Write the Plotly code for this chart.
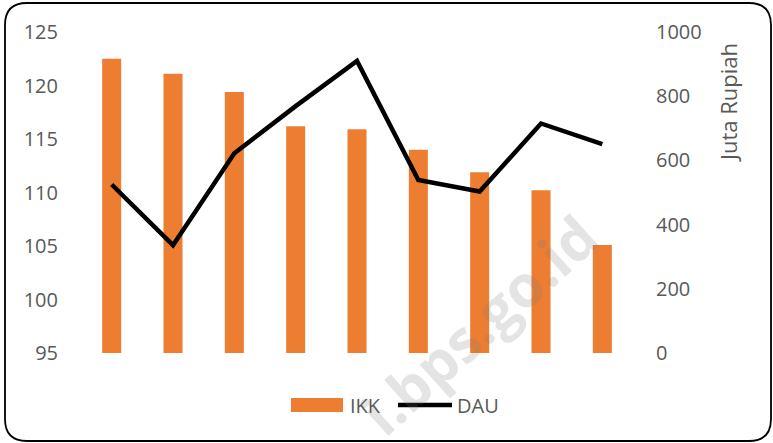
import plotly.graph_objects as go

categories = ["A", "B", "C", "D", "E", "F", "G", "H", "I"]
ikk_values = [122.5, 121.1, 119.4, 116.2, 115.9, 114.0, 111.9, 110.2, 105.1]
dau_values = [525, 336, 622, 769, 910, 539, 503, 715, 651]
left_ticks = [95, 100, 105, 110, 115, 120, 125]
right_ticks = [0, 200, 400, 600, 800, 1000]

W, H = 773, 443
ML, MR, MT, MB = 81, 140, 32, 90
PW, PH = W - ML - MR, H - MT - MB

def px(x):
    return (x - ML) / PW

def py(y):
    return (H - MB - y) / PH

ORANGE = "#ED7D31"
GRAY = "#595959"
FONT = "Open Sans"

fig = go.Figure()
fig.add_trace(go.Bar(x=categories, y=ikk_values, name="IKK", marker=dict(color=ORANGE, line=dict(width=0)),
                     yaxis="y"))
fig.add_trace(go.Scatter(x=categories, y=dau_values, name="DAU", mode="lines",
                         line=dict(color="black", width=4.5), yaxis="y2"))

shapes = []
# rounded border
x0, y0, x1, y1, r = 5, 3, 771, 441, 22
path = (f"M {px(x0+r)},{py(y0)} L {px(x1-r)},{py(y0)} Q {px(x1)},{py(y0)} {px(x1)},{py(y0+r)} "
        f"L {px(x1)},{py(y1-r)} Q {px(x1)},{py(y1)} {px(x1-r)},{py(y1)} "
        f"L {px(x0+r)},{py(y1)} Q {px(x0)},{py(y1)} {px(x0)},{py(y1-r)} "
        f"L {px(x0)},{py(y0+r)} Q {px(x0)},{py(y0)} {px(x0+r)},{py(y0)} Z")
shapes.append(dict(type="path", xref="paper", yref="paper", path=path,
                   line=dict(color="black", width=1.8), layer="above"))
# custom legend
shapes.append(dict(type="rect", xref="paper", yref="paper", x0=px(291), x1=px(343), y0=py(412), y1=py(398),
                   fillcolor=ORANGE, line=dict(width=0)))
shapes.append(dict(type="line", xref="paper", yref="paper", x0=px(398), x1=px(452), y0=py(405), y1=py(405),
                   line=dict(color="black", width=4.5)))

annotations = [
    dict(text="IKK", xref="paper", yref="paper", x=px(348), y=py(405), xanchor="left", yanchor="middle",
         showarrow=False, font=dict(family=FONT, size=20, color=GRAY)),
    dict(text="DAU", xref="paper", yref="paper", x=px(455), y=py(405), xanchor="left", yanchor="middle",
         showarrow=False, font=dict(family=FONT, size=20, color=GRAY)),
    dict(text="Juta Rupiah", xref="paper", yref="paper", x=px(728), y=py(103), xanchor="center", yanchor="middle",
         textangle=-90, showarrow=False, font=dict(family=FONT, size=22, color=GRAY)),
    dict(text="<b>i.bps.go.id</b>", xref="paper", yref="paper", x=px(478), y=py(324), xanchor="center",
         yanchor="middle", textangle=-42, showarrow=False,
         font=dict(family=FONT, size=58, color="rgba(120,120,120,0.2)")),
]

fig.update_layout(
    width=W, height=H,
    margin=dict(l=ML, r=MR, t=MT, b=MB, pad=0),
    paper_bgcolor="white", plot_bgcolor="white",
    showlegend=False,
    bargap=0.69,
    font=dict(family=FONT, size=20, color=GRAY),
    xaxis=dict(showticklabels=False, showgrid=False, zeroline=False, showline=False, ticks=""),
    yaxis=dict(range=[95, 125], tickvals=left_ticks, showgrid=False, zeroline=False, showline=False,
               ticks="outside", ticklen=18, tickcolor="rgba(0,0,0,0)",
               tickfont=dict(family=FONT, size=20, color=GRAY)),
    yaxis2=dict(range=[0, 1000], tickvals=right_ticks, overlaying="y", side="right", showgrid=False,
                zeroline=False, showline=False, ticks="outside", ticklen=18, tickcolor="rgba(0,0,0,0)",
                tickfont=dict(family=FONT, size=20, color=GRAY)),
    shapes=shapes,
    annotations=annotations,
)

fig.write_html("out.html", config={"displayModeBar": False},
               post_script="document.body.style.margin='0px';document.body.style.overflow='hidden';")
